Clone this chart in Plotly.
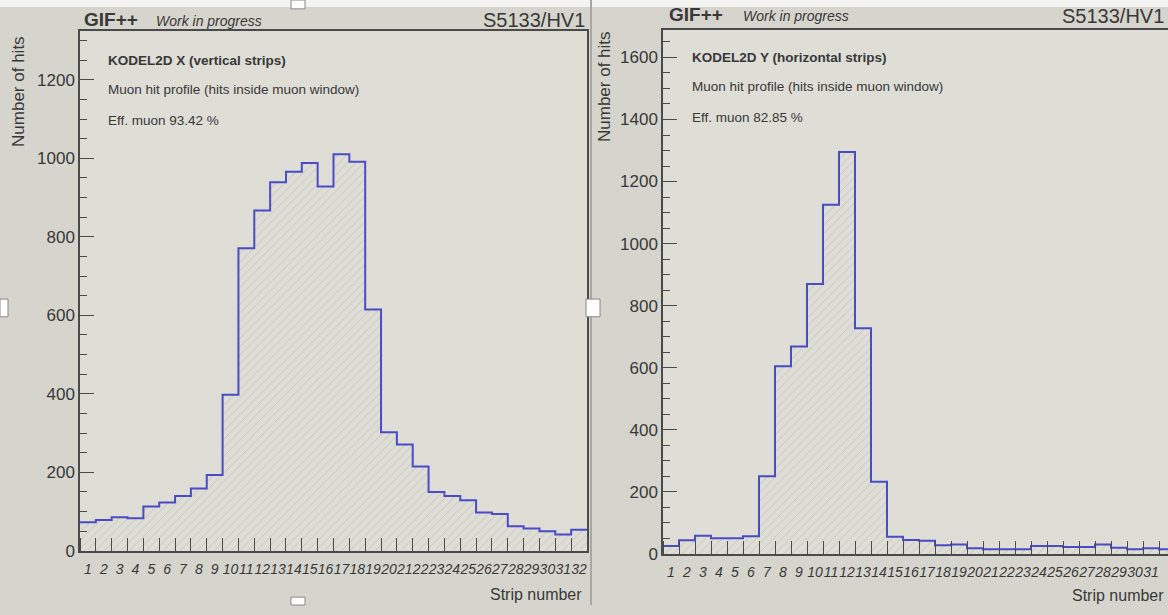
import plotly.graph_objects as go

# ---------------- data ----------------
strips = list(range(1, 33))
strip_labels = [str(s) for s in strips]

hits_x = [73, 79, 86, 83, 113, 123, 140, 159, 193, 398, 771, 867, 939, 966, 988, 928,
          1010, 991, 615, 302, 271, 215, 150, 140, 129, 98, 94, 63, 57, 50, 42, 54]

hits_y = [25, 44, 58, 50, 50, 57, 250, 605, 668, 870, 1125, 1295, 727, 232, 55, 45,
          42, 28, 30, 18, 15, 15, 15, 25, 25, 22, 22, 30, 20, 15, 18, 15]

panel_titles = ["KODEL2D X (vertical strips)", "KODEL2D Y (horizontal strips)"]
subtitle = "Muon hit profile (hits inside muon window)"
eff_texts = ["Eff. muon 93.42 %", "Eff. muon 82.85 %"]

W, H = 1168, 615
FONT = "Liberation Sans, Arial, Helvetica, sans-serif"
TXT = "#383838"
AX = "#4a4a4a"
LINE_BLUE = "#4b4bc8"
PLOT_BG = "#deddd6"
PAPER_BG = "#d6d5cd"

edges = [s - 0.5 for s in strips] + [strips[-1] + 0.5]


def px_x(p):
    return p / W


def px_y(p):
    return 1 - p / H


fig = go.Figure()

for i, (vals, xa, ya) in enumerate([(hits_x, "x", "y"), (hits_y, "x2", "y2")]):
    fig.add_trace(go.Bar(
        x=strips, y=vals, width=1.0, xaxis=xa, yaxis=ya,
        marker=dict(color=PLOT_BG, line=dict(width=0),
                    pattern=dict(shape="/", fgcolor="#9a9a96", size=6,
                                 solidity=0.12, fillmode="overlay")),
        showlegend=False, hoverinfo="skip"))
    fig.add_trace(go.Scatter(
        x=edges, y=vals + [vals[-1]], mode="lines", line_shape="hv",
        line=dict(color=LINE_BLUE, width=2), xaxis=xa, yaxis=ya,
        showlegend=False, hoverinfo="skip"))

xcommon = dict(
    tickmode="array", tickvals=strips, ticktext=strip_labels, ticks="", ticklen=0,
    tickangle=0, tickfont=dict(family=FONT, size=14, color=TXT, style="italic"),
    ticklabelstandoff=5, showgrid=False,
    zeroline=False, showline=True, linecolor=AX, linewidth=1.5, mirror=True,
    minor=dict(tickmode="array", tickvals=edges, ticks="inside", ticklen=13,
               tickcolor=AX, tickwidth=1, showgrid=False),
)
ycommon = dict(
    tickmode="linear", tick0=0, dtick=200, ticks="inside", ticklen=14,
    tickcolor=AX, tickwidth=1, tickfont=dict(family=FONT, size=17, color=TXT),
    showgrid=False, zeroline=False, showline=True, linecolor=AX, linewidth=1.5,
    minor=dict(dtick=50, ticks="inside", ticklen=7, tickcolor=AX, tickwidth=1,
               showgrid=False),
)

fig.update_layout(
    width=W, height=H, margin=dict(l=0, r=0, t=0, b=0),
    paper_bgcolor=PAPER_BG, plot_bgcolor=PLOT_BG, bargap=0,
    xaxis=dict(domain=[px_x(80), px_x(587)], range=[0.5, 32.5], anchor="y", **xcommon),
    yaxis=dict(domain=[px_y(560), px_y(32)], range=[0, 1323], anchor="x", mirror=True, **ycommon),
    xaxis2=dict(domain=[px_x(663), 1.0], range=[0.5, 0.5 + (1168 - 663) / 16.0], anchor="y2", **xcommon),
    yaxis2=dict(domain=[px_y(563), px_y(30)], range=[0, 1690], anchor="x2", mirror=False, **ycommon),
)

ann = []


def add_text(x, y, text, size, bold=False, italic=False, xanchor="left", angle=0, color=TXT):
    t = text
    if bold:
        t = "<b>" + t + "</b>"
    if italic:
        t = "<i>" + t + "</i>"
    ann.append(dict(x=px_x(x), y=px_y(y), xref="paper", yref="paper", text=t,
                    showarrow=False, xanchor=xanchor, yanchor="middle", textangle=angle,
                    font=dict(family=FONT, size=size, color=color)))


# left panel header
add_text(82, 20, "GIF++", 19, bold=True)
add_text(154, 21, "Work in progress", 14, italic=True)
add_text(587, 20, "S5133/HV1", 20, xanchor="right")
# right panel header
add_text(667, 15, "GIF++", 19, bold=True)
add_text(741, 16, "Work in progress", 14, italic=True)
add_text(1166, 16, "S5133/HV1", 20, xanchor="right")

# in-plot texts
add_text(106, 61, panel_titles[0], 13.5, bold=True)
add_text(106, 91, subtitle, 13.5)
add_text(106, 123, eff_texts[0], 13.5)
add_text(690, 58, panel_titles[1], 13.5, bold=True)
add_text(690, 88, subtitle, 13.5)
add_text(690, 119, eff_texts[1], 13.5)

# axis titles
ann.append(dict(x=px_x(19), y=px_y(35), xref="paper", yref="paper", text="Number of hits",
                showarrow=False, xanchor="center", yanchor="top", textangle=-90,
                font=dict(family=FONT, size=17, color=TXT)))
ann.append(dict(x=px_x(604), y=px_y(30), xref="paper", yref="paper", text="Number of hits",
                showarrow=False, xanchor="center", yanchor="top", textangle=-90,
                font=dict(family=FONT, size=17, color=TXT)))
add_text(584, 604, "Strip number", 16, xanchor="right")
add_text(1166, 605, "Strip number", 16, xanchor="right")

fig.update_layout(annotations=ann)

# canvas decorations (pad borders and handles)
shapes = [
    dict(type="rect", xref="paper", yref="paper", x0=0, x1=1, y0=px_y(7), y1=1,
         fillcolor="#f4f4f2", line=dict(width=0), layer="below"),
    dict(type="line", xref="paper", yref="paper", x0=px_x(591), x1=px_x(591), y0=0, y1=1,
         line=dict(color="#a8a8a0", width=2)),
    dict(type="rect", xref="paper", yref="paper", x0=px_x(586), x1=px_x(600),
         y0=px_y(322), y1=px_y(304), fillcolor="white", line=dict(color="#888", width=1)),
    dict(type="rect", xref="paper", yref="paper", x0=0, x1=px_x(8),
         y0=px_y(322), y1=px_y(304), fillcolor="white", line=dict(color="#888", width=1)),
    dict(type="rect", xref="paper", yref="paper", x0=px_x(291), x1=px_x(305),
         y0=px_y(9), y1=1, fillcolor="white", line=dict(color="#888", width=1)),
    dict(type="rect", xref="paper", yref="paper", x0=px_x(291), x1=px_x(305),
         y0=0, y1=px_y(607), fillcolor="white", line=dict(color="#888", width=1)),
]
fig.update_layout(shapes=shapes)

fig.write_html("out.html")
